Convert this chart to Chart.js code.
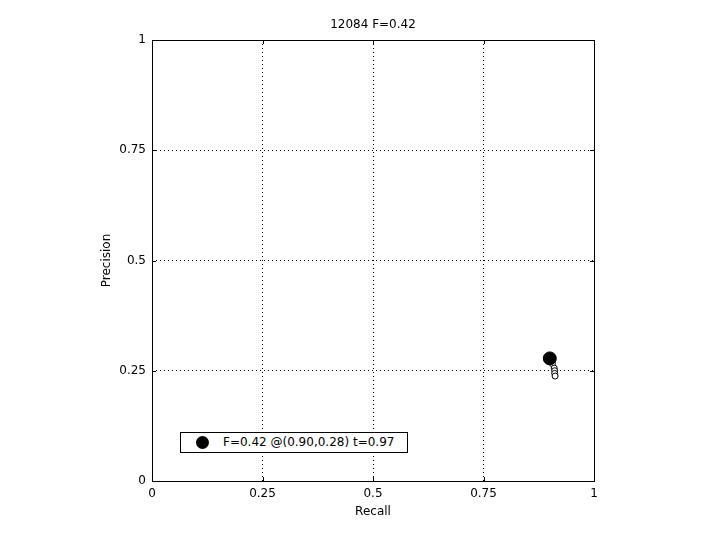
<!DOCTYPE html>
<html>
<head>
<meta charset="utf-8">
<script src="https://cdn.jsdelivr.net/npm/chart.js@4"></script>
<style>
  body { margin: 0; background: #fff; }
  #wrap { position: relative; width: 720px; height: 540px; }
  #legend {
    position: absolute; left: 180px; top: 432px; width: 226px; height: 19px;
    border: 1px solid #000; background: #fff;
    font: 12px "DejaVu Sans", sans-serif; color: #000; line-height: 19px;
  }
  #legend .dot {
    position: absolute; left: 15px; top: 3px; width: 13px; height: 13px;
    border-radius: 50%; background: #000;
  }
  #legend .txt { position: absolute; left: 42px; top: 0; white-space: nowrap; }
</style>
</head>
<body>
<div id="wrap">
  <canvas id="grafico" width="720" height="540"></canvas>
  <div id="legend"><span class="dot"></span><span class="txt" id="legendTxt"></span></div>
</div>
<script>
// curva precision/recall
const recall = [0.900, 0.906, 0.910, 0.911, 0.911, 0.912];
const precision = [0.278, 0.266, 0.256, 0.250, 0.244, 0.238];
// mejor punto
const bestRecall = [0.90];
const bestPrecision = [0.278];
const tickValues = [0, 0.25, 0.5, 0.75, 1];
const titulo = '12084 F=0.42';
const textoLeyenda = 'F=0.42 @(0.90,0.28) t=0.97';

document.getElementById('legendTxt').textContent = textoLeyenda;

const fuente = { family: 'DejaVu Sans', size: 12, weight: 'normal' };

// marco negro y marcas de eje hacia adentro
const marco = {
  id: 'marco',
  afterDraw(chart) {
    const { ctx, chartArea: a, scales } = chart;
    ctx.save();
    ctx.strokeStyle = '#000';
    ctx.lineWidth = 1;
    ctx.strokeRect(a.left + 0.5, a.top + 0.5, a.right - a.left, a.bottom - a.top);
    ctx.beginPath();
    tickValues.forEach(v => {
      const x = Math.round(scales.x.getPixelForValue(v)) + 0.5;
      ctx.moveTo(x, a.bottom); ctx.lineTo(x, a.bottom - 4);
      ctx.moveTo(x, a.top); ctx.lineTo(x, a.top + 4);
      const y = Math.round(scales.y.getPixelForValue(v)) + 0.5;
      ctx.moveTo(a.left, y); ctx.lineTo(a.left + 4, y);
      ctx.moveTo(a.right, y); ctx.lineTo(a.right - 4, y);
    });
    ctx.stroke();
    ctx.restore();
  }
};

const fondo = {
  id: 'fondo',
  beforeDraw(chart) {
    const ctx = chart.ctx;
    ctx.save();
    ctx.fillStyle = '#fff';
    ctx.fillRect(0, 0, chart.width, chart.height);
    ctx.restore();
  }
};

const ctx = document.getElementById('grafico').getContext('2d');
const grafico = new Chart(ctx, {
  type: 'scatter',
  data: {
    datasets: [
      {
        data: recall.map((r, i) => ({ x: r, y: precision[i] })),
        order: 1,
        showLine: true,
        borderColor: '#000',
        borderWidth: 1,
        pointRadius: 3,
        pointBackgroundColor: '#fff',
        pointBorderColor: '#000',
        pointBorderWidth: 1,
      },
      {
        data: bestRecall.map((r, i) => ({ x: r, y: bestPrecision[i] })),
        order: 0,
        pointRadius: 6.5,
        pointBackgroundColor: '#000',
        pointBorderColor: '#000',
      },
    ],
  },
  plugins: [fondo, marco],
  options: {
    responsive: false,
    animation: false,
    layout: { padding: { left: 0, right: 126, top: 0, bottom: 0 } },
    plugins: {
      legend: { display: false },
      tooltip: { enabled: false },
      title: {
        display: true,
        text: titulo,
        fullSize: false,
        color: '#000',
        font: fuente,
        padding: { top: 18, bottom: 7.6 },
      },
    },
    scales: {
      x: {
        type: 'linear',
        min: 0,
        max: 1,
        afterBuildTicks: s => { s.ticks = tickValues.map(v => ({ value: v })); },
        afterFit: s => { s.height = 59; },
        ticks: { color: '#000', font: fuente, padding: 6, maxRotation: 0, callback: v => String(v) },
        grid: { color: '#000', lineWidth: 1, drawTicks: false },
        border: { display: false, dash: [1, 3] },
        title: { display: true, text: 'Recall', color: '#000', font: fuente, padding: { top: 0, bottom: 21 } },
      },
      y: {
        type: 'linear',
        min: 0,
        max: 1,
        afterBuildTicks: s => { s.ticks = tickValues.map(v => ({ value: v })); },
        afterFit: s => { s.width = 152; },
        ticks: { color: '#000', font: fuente, padding: 6, callback: v => String(v) },
        grid: { color: '#000', lineWidth: 1, drawTicks: false },
        border: { display: false, dash: [1, 3] },
        title: { display: true, text: 'Precision', color: '#000', font: fuente, padding: { top: 100, bottom: 0 } },
      },
    },
  },
});
</script>
</body>
</html>
